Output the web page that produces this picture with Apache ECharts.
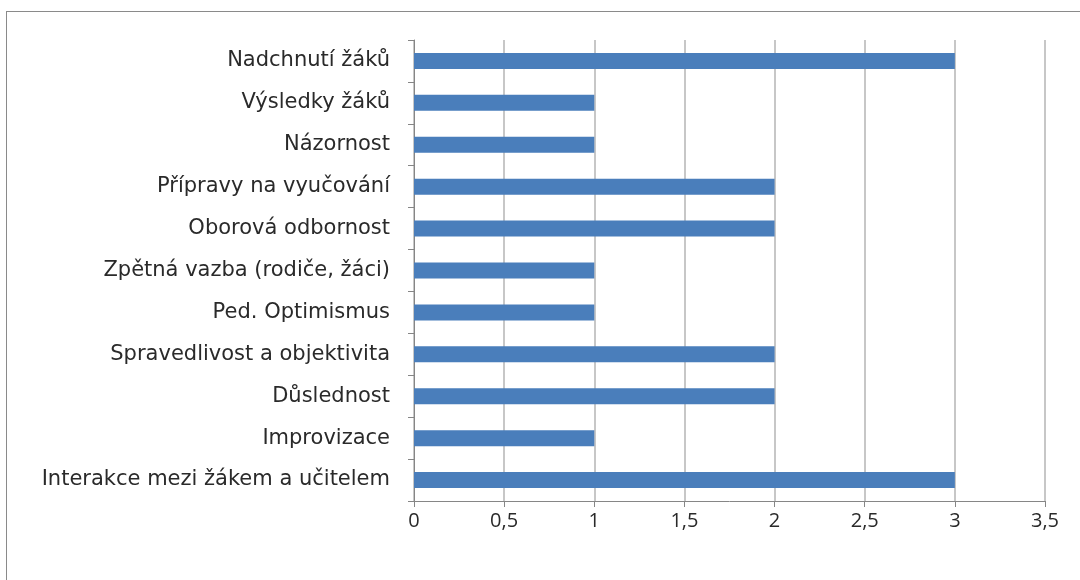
<!DOCTYPE html>
<html>
<head>
<meta charset="utf-8">
<script src="https://cdn.jsdelivr.net/npm/echarts@6/dist/echarts.min.js"></script>
<style>
  html, body { margin: 0; padding: 0; background: #fff; }
  #frame { position: absolute; left: 6px; top: 11px; width: 1100px; height: 600px;
           border-left: 1px solid #8a8a8a; border-top: 1px solid #8a8a8a; }
  #chart { position: absolute; left: 0; top: 0; width: 1080px; height: 580px; }
</style>
</head>
<body>
<div id="frame"></div>
<div id="chart"></div>
<script>
// categories listed bottom to top
const categories = [
  "Interakce mezi žákem a učitelem",
  "Improvizace",
  "Důslednost",
  "Spravedlivost a objektivita",
  "Ped. Optimismus",
  "Zpětná vazba (rodiče, žáci)",
  "Oborová odbornost",
  "Přípravy na vyučování",
  "Názornost",
  "Výsledky žáků",
  "Nadchnutí žáků",
];
const values = [3, 1, 2, 2, 1, 1, 2, 2, 1, 1, 3];

const chart = echarts.init(document.getElementById("chart"), null, { renderer: "canvas" });

chart.setOption({
  backgroundColor: "transparent",
  animation: false,
  grid: { left: 414, right: 35, top: 40, bottom: 79 },
  xAxis: {
    type: "value",
    min: 0,
    max: 3.5,
    interval: 0.5,
    axisLine: { show: true, lineStyle: { color: "#868686", width: 1 } },
    axisTick: { show: true, length: 6, lineStyle: { color: "#868686" } },
    splitLine: { show: true, lineStyle: { color: "#b4b4b4", width: 1.5 } },
    axisLabel: {
      color: "#2a2a2a",
      fontFamily: "Open Sans",
      fontSize: 20,
      margin: 10,
      formatter: (v) => String(v).replace(".", ","),
    },
  },
  yAxis: {
    type: "category",
    data: categories,
    axisLine: { show: true, lineStyle: { color: "#868686", width: 1 } },
    axisTick: { show: true, length: 6, lineStyle: { color: "#868686" } },
    axisLabel: { color: "#2a2a2a", fontFamily: "DejaVu Sans", fontSize: 21, margin: 24 },
  },
  series: [{
    type: "bar",
    data: values,
    barWidth: 16,
    itemStyle: { color: "#4a7ebb" },
  }],
});
</script>
</body>
</html>
